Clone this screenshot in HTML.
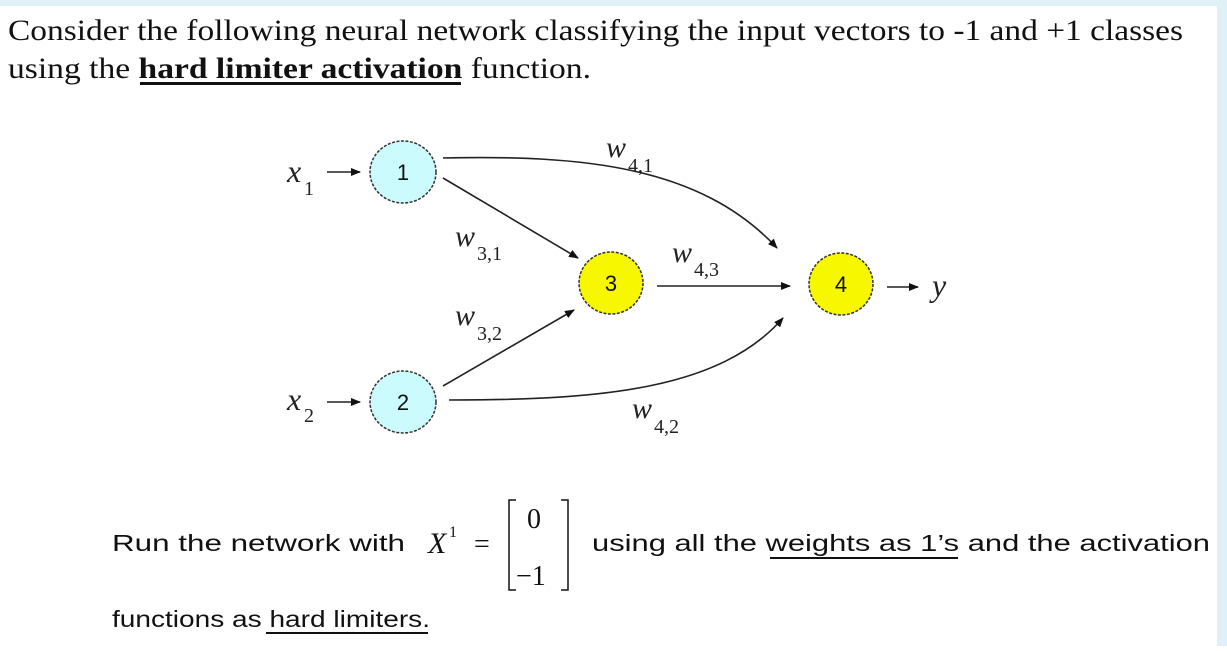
<!DOCTYPE html>
<html><head><meta charset="utf-8"><style>
html,body{margin:0;padding:0;background:#fff;}
body{width:1227px;height:646px;overflow:hidden;}
</style></head><body>
<svg width="1227" height="646" viewBox="0 0 1227 646" xmlns="http://www.w3.org/2000/svg">
<rect x="0" y="0" width="1227" height="646" fill="#fff"/>
<rect x="0" y="0" width="1227" height="6" fill="#dff0f7"/>
<rect x="1217" y="0" width="10" height="646" fill="#dff0f7"/>
<defs>
<marker id="ah" markerWidth="10" markerHeight="8" refX="9" refY="4" orient="auto" markerUnits="userSpaceOnUse">
<path d="M0,0 L10,4 L0,8 Z" fill="#111"/>
</marker>
</defs>
<g font-family="Liberation Serif, serif" fill="#111">
<text x="8" y="40" font-size="30" textLength="1175" lengthAdjust="spacingAndGlyphs">Consider the following neural network classifying the input vectors to -1 and +1 classes</text>
<text x="8" y="78" font-size="30" textLength="583" lengthAdjust="spacingAndGlyphs">using the <tspan font-weight="bold">hard limiter activation</tspan> function.</text>
</g>
<rect x="140" y="82" width="321" height="3" fill="#111"/>

<!-- edges -->
<g stroke="#222" stroke-width="1.6" fill="none">
<path d="M443,158 C580,155 700,165 777,248" marker-end="url(#ah)"/>
<path d="M443,178 L578,258" marker-end="url(#ah)"/>
<path d="M657,286 L790,286" marker-end="url(#ah)"/>
<path d="M443,386 L574,310" marker-end="url(#ah)"/>
<path d="M449,400 C600,400 720,390 783,318" marker-end="url(#ah)"/>
<path d="M327,172 L360,172" marker-end="url(#ah)"/>
<path d="M327,402 L360,402" marker-end="url(#ah)"/>
<path d="M887,287 L918,287" marker-end="url(#ah)"/>
</g>

<!-- nodes -->
<g stroke="#333" stroke-width="1.5" stroke-dasharray="3,1.5">
<ellipse cx="403" cy="172" rx="33" ry="31" fill="#ccfbfd"/>
<ellipse cx="403" cy="402" rx="33" ry="31" fill="#ccfbfd"/>
<ellipse cx="611" cy="283" rx="32" ry="31" fill="#f7f700"/>
<ellipse cx="841" cy="284" rx="32" ry="31" fill="#f7f700"/>
</g>
<g font-family="Liberation Sans, sans-serif" font-size="22" fill="#111" text-anchor="middle">
<text x="403" y="180">1</text>
<text x="403" y="410">2</text>
<text x="611" y="291">3</text>
<text x="841" y="292">4</text>
</g>

<g font-family="Liberation Serif, serif" font-style="italic" fill="#222">
<text x="287" y="182" font-size="32">x</text><text x="304" y="195" font-size="20" font-style="normal">1</text>
<text x="287" y="410" font-size="32">x</text><text x="304" y="422" font-size="20" font-style="normal">2</text>
<text x="932" y="296" font-size="32">y</text>
<text x="606" y="157" font-size="30">w</text><text x="628" y="172" font-size="20" font-style="normal">4,1</text>
<text x="455" y="246" font-size="30">w</text><text x="477" y="260" font-size="20" font-style="normal">3,1</text>
<text x="672" y="262" font-size="30">w</text><text x="694" y="276" font-size="20" font-style="normal">4,3</text>
<text x="455" y="325" font-size="30">w</text><text x="477" y="340" font-size="20" font-style="normal">3,2</text>
<text x="632" y="418" font-size="30">w</text><text x="654" y="433" font-size="20" font-style="normal">4,2</text>
</g>

<!-- bottom text -->
<g font-family="Liberation Sans, sans-serif" font-size="23" fill="#111">
<text x="112" y="551" textLength="293" lengthAdjust="spacingAndGlyphs">Run the network with</text>
<text x="592" y="551" textLength="618" lengthAdjust="spacingAndGlyphs">using all the <tspan>weights as 1’s</tspan> and the activation</text>
<text x="112" y="627" textLength="318" lengthAdjust="spacingAndGlyphs">functions as hard limiters.</text>
</g>
<rect x="770" y="557" width="188" height="2" fill="#111"/>
<rect x="266" y="632" width="162" height="2" fill="#111"/>
<g font-family="Liberation Serif, serif" fill="#111">
<text x="428" y="553" font-size="30" font-style="italic">X</text>
<text x="449" y="537" font-size="16">1</text>
<text x="474" y="553" font-size="28">=</text>
<text x="527" y="528" font-size="28">0</text>
<text x="516" y="585" font-size="28">−1</text>
</g>
<g stroke="#111" stroke-width="1.5" fill="none">
<path d="M516,500 L509,500 L509,590 L516,590"/>
<path d="M561,500 L568,500 L568,590 L561,590"/>
</g>
</svg>
</body></html>
